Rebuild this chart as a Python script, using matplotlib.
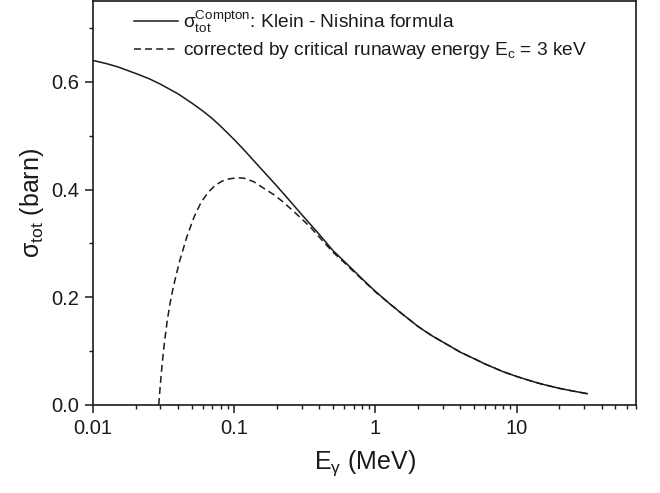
import matplotlib
matplotlib.use("Agg")
import matplotlib.pyplot as plt
from matplotlib.ticker import FixedLocator, FixedFormatter, LogLocator, NullFormatter

# Photon energy (MeV) and total Compton cross section (barn), Klein-Nishina
e_kn = [0.01, 0.0125, 0.015, 0.02, 0.025, 0.03, 0.04, 0.05, 0.06, 0.07, 0.08,
        0.1, 0.12, 0.15, 0.2, 0.25, 0.3, 0.4, 0.5, 0.6, 0.7, 0.8, 1.0, 1.25,
        1.5, 2.0, 2.5, 3.0, 4.0, 5.0, 6.0, 8.0, 10.0, 12.5, 15.0, 20.0, 25.0,
        31.6]
sigma_kn = [0.640, 0.634, 0.628, 0.616, 0.606, 0.596, 0.578, 0.561, 0.546,
            0.532, 0.518, 0.493, 0.471, 0.443, 0.407, 0.378, 0.354, 0.317,
            0.287, 0.267, 0.250, 0.235, 0.211, 0.189, 0.172, 0.146, 0.129,
            0.117, 0.098, 0.086, 0.076, 0.062, 0.053, 0.045, 0.039, 0.031,
            0.026, 0.021]

# Cross section restricted to recoil electrons above E_c = 3 keV
e_cut = [0.0292, 0.02988, 0.03057, 0.03129, 0.03202, 0.03353, 0.03510,
         0.03676, 0.03894, 0.04125, 0.04628, 0.05193, 0.05826, 0.06537,
         0.07335, 0.0823, 0.09234, 0.1036, 0.1163, 0.137, 0.161, 0.19, 0.22,
         0.26, 0.3, 0.35, 0.4, 0.5, 0.6, 0.7, 0.8, 1.0, 1.25, 1.5, 2.0, 2.5,
         3.0, 4.0, 5.0, 6.0, 8.0, 10.0, 12.5, 15.0, 20.0, 25.0, 31.6]
sigma_cut = [0.0, 0.033, 0.063, 0.0905, 0.115, 0.156, 0.1885, 0.215, 0.243,
             0.269, 0.313, 0.349, 0.3765, 0.395, 0.408, 0.416, 0.420, 0.422,
             0.4215, 0.415, 0.403, 0.391, 0.378, 0.361, 0.346, 0.329, 0.312,
             0.284, 0.265, 0.248, 0.234, 0.210, 0.189, 0.172, 0.146, 0.129,
             0.117, 0.098, 0.086, 0.076, 0.062, 0.053, 0.045, 0.039, 0.031,
             0.026, 0.021]

x_major = [0.01, 0.1, 1, 10]
x_labels = ["0.01", "0.1", "1", "10"]
y_major = [0.0, 0.2, 0.4, 0.6]
y_labels = ["0.0", "0.2", "0.4", "0.6"]
y_minor = [0.1, 0.3, 0.5, 0.7]

plt.rcParams["font.family"] = ["Liberation Sans", "DejaVu Sans"]
plt.rcParams["mathtext.fontset"] = "custom"
plt.rcParams["mathtext.rm"] = "Liberation Sans"
plt.rcParams["mathtext.it"] = "Liberation Sans:italic"
plt.rcParams["mathtext.sf"] = "Liberation Sans"
plt.rcParams["lines.scale_dashes"] = False

ink = "#1a1a1a"

fig = plt.figure(figsize=(6.6, 4.93), dpi=100)
ax = fig.add_axes([0.1409, 0.1785, 0.8227, 0.819])

ax.plot(e_kn, sigma_kn, color=ink, lw=1.1,
        label=r"$\mathrm{σ}_{\mathrm{tot}}^{\mathrm{Compton}}$: Klein - Nishina formula")
ax.plot(e_cut, sigma_cut, color=ink, lw=1.1, dashes=(5, 3),
        label=r"corrected by critical runaway energy E$_{\mathrm{c}}$ = 3 keV")

ax.set_xscale("log")
ax.set_xlim(0.01, 70)
ax.set_ylim(0.0, 0.75)

ax.xaxis.set_major_locator(FixedLocator(x_major))
ax.xaxis.set_major_formatter(FixedFormatter(x_labels))
ax.xaxis.set_minor_locator(LogLocator(base=10, subs=range(2, 10)))
ax.xaxis.set_minor_formatter(NullFormatter())
ax.yaxis.set_major_locator(FixedLocator(y_major))
ax.yaxis.set_major_formatter(FixedFormatter(y_labels))
ax.yaxis.set_minor_locator(FixedLocator(y_minor))

ax.tick_params(which="major", direction="out", length=5.8, width=1.1,
               labelsize=14.5, colors=ink, pad=4)
ax.tick_params(which="minor", direction="out", length=3, width=1.0, colors=ink)
for s in ax.spines.values():
    s.set_linewidth(1.2)
    s.set_color(ink)

ax.set_xlabel(r"E$_{\mathrm{γ}}$ (MeV)", fontsize=18, color=ink, labelpad=8)
ax.set_ylabel(r"$\mathrm{σ}_{\mathrm{tot}}$ (barn)", fontsize=18, color=ink, labelpad=4)

leg = ax.legend(loc="upper left", bbox_to_anchor=(0.055, 1.012), frameon=False,
                fontsize=13.8, handlelength=2.3, handletextpad=0.25,
                labelspacing=0.3, borderaxespad=0.2)
for t in leg.get_texts():
    t.set_color(ink)

fig.savefig("out.png", dpi=100)
